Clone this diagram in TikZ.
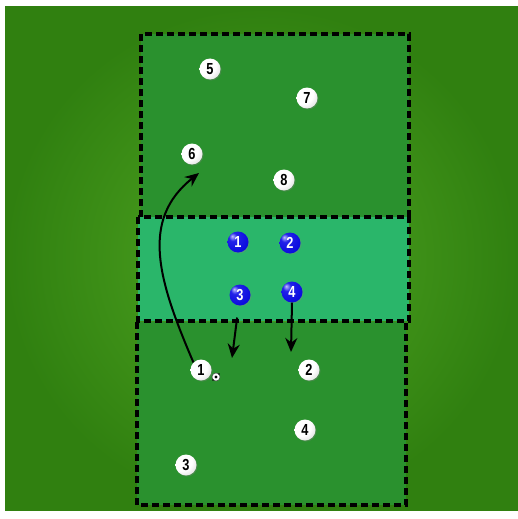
\documentclass[tikz,border=0pt]{standalone}
\usepackage{fontspec}
\setmainfont{Liberation Sans}
\newfontfamily\pfont[FakeStretch=0.8]{Liberation Sans}
\usetikzlibrary{arrows.meta,shadows}
\definecolor{bgout}{RGB}{48,128,16}
\definecolor{bgin}{RGB}{80,166,34}
\definecolor{zonegreen}{RGB}{42,145,46}
\definecolor{zoneteal}{RGB}{42,182,106}
\definecolor{playerblue}{RGB}{34,34,232}
\pgfdeclareradialshading{wball}{\pgfpoint{-14bp}{14bp}}{%
  color(0bp)=(white); color(24bp)=(white); color(48bp)=(black!22);
  color(62bp)=(black!50); color(80bp)=(black!50)}
\pgfdeclareradialshading{bball}{\pgfpoint{-14bp}{14bp}}{%
  color(0bp)=(blue!25!white); color(10bp)=(playerblue); color(44bp)=(blue!85!black);
  color(62bp)=(blue!35!black); color(80bp)=(blue!35!black)}
\tikzset{
  zone/.style={draw=black, line width=3.3pt, dash pattern=on 7pt off 4pt},
  pshadow/.style={drop shadow={opacity=0.35, shadow xshift=1pt, shadow yshift=-1pt}},
  pfontstyle/.style={font=\pfont\fontsize{16}{16}\selectfont\bfseries},
  wplayer/.style={circle, minimum size=21pt, inner sep=0pt, shading=wball,
    pfontstyle, text=black, pshadow},
  bplayer/.style={circle, minimum size=21pt, inner sep=0pt, shading=bball,
    pfontstyle, text=white, pshadow},
  move/.style={draw=black, line width=2pt, -{Stealth[length=14pt,width=12pt]}},
}
\begin{document}
\begin{tikzpicture}[x=1pt,y=-1pt]
\useasboundingbox (0,0) rectangle (518,519);
\fill[white] (0,0) rectangle (518,519);
\shade[inner color=bgin, outer color=bgout] (5,7) rectangle (518,510);
% zones
\fill[zonegreen] (141,34) rectangle (409,217);
\fill[zonegreen] (137,322) rectangle (406,505);
\fill[zoneteal] (138,217) rectangle (409,321);
\draw[zone] (141,217) -- (141,34) -- (409,34) -- (409,217);
\draw[zone] (137,322) -- (137,505) -- (406,505) -- (406,322);
\draw[zone] (138,217) rectangle (409,321);
% top players
\node[wplayer] (w5) at (210,69) {5};
\node[wplayer] (w7) at (307,98) {7};
\node[wplayer] (w6) at (192,154) {6};
\node[wplayer] (w8) at (284,180) {8};
% blue players
\node[bplayer] (b1) at (238,242) {1};
\node[bplayer] (b2) at (290,243) {2};
\node[bplayer] (b3) at (240,295) {3};
\node[bplayer] (b4) at (292,292) {4};
% bottom players
\node[wplayer] (w1) at (201,370) {1};
\node[wplayer] (w2) at (309,370) {2};
\node[wplayer] (w4) at (305,430) {4};
\node[wplayer] (w3) at (186,465) {3};
% ball
\node[circle, draw=black!70, line width=0.5pt, fill=white, minimum size=8pt, inner sep=0pt] (ball) at (216,377) {};
\fill[black] (ball.center) circle (1.6pt);
\fill[black] (ball.north east) circle (0.9pt);
\fill[black] (ball.south west) circle (0.9pt);
% arrows
\coordinate (t6) at (199,173);
\coordinate (t3) at (232,358);
\coordinate (t4) at (291,352);
\draw[move] (w1.north west) .. controls (158,280) and (140,220) .. (t6);
\draw[move, shorten <=12pt] (b3) -- (t3);
\draw[move] (b4.south) -- (t4);
\end{tikzpicture}
\end{document}
